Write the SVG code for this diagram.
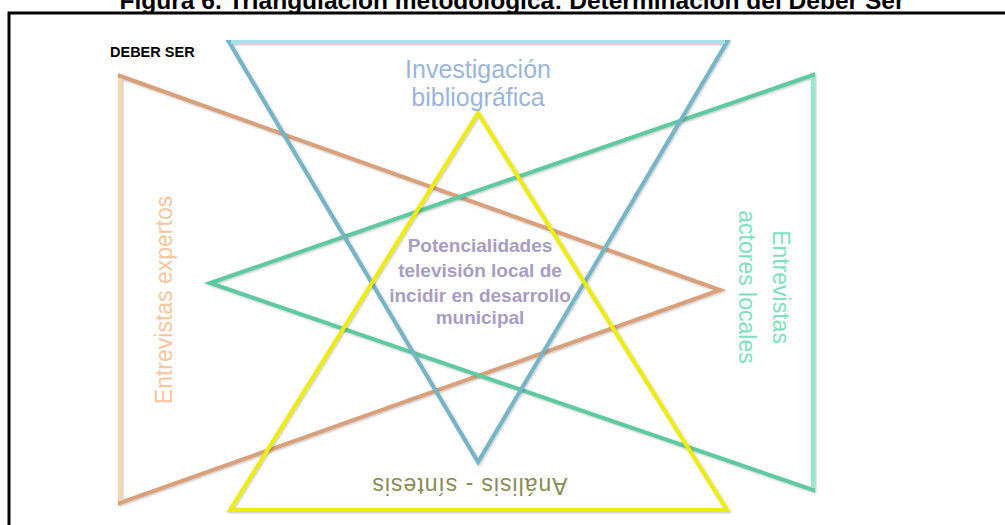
<svg xmlns="http://www.w3.org/2000/svg" width="1005" height="525" viewBox="0 0 1005 525">
<style>
.tri{fill:none;stroke-width:4;stroke-linejoin:miter}
.lbl{font-family:"Liberation Sans",Arial,sans-serif}
</style>
<defs>
<filter id="sh" x="-5%" y="-5%" width="110%" height="110%">
<feDropShadow dx="1" dy="1" stdDeviation="0.8" flood-color="#000" flood-opacity="0.25"/>
</filter>
</defs>
<rect width="1005" height="525" fill="#fff"/>
<text x="512" y="9" text-anchor="middle" class="lbl" font-weight="bold" font-size="23" textLength="785" lengthAdjust="spacingAndGlyphs" fill="#000">Figura 6. Triangulación metodológica: Determinación del Deber Ser</text>
<rect x="9" y="13" width="1010" height="530" fill="none" stroke="#000" stroke-width="3"/>
<text x="110" y="57" class="lbl" font-weight="bold" font-size="14.5" fill="#000">DEBER SER</text>

<g id="expertos" filter="url(#sh)">
<polygon class="tri" points="120,76 720,290 120,503" stroke="#d9a07c"/>
<line x1="120" y1="78" x2="120" y2="501" stroke="#f7d5ad" stroke-width="4"/>
</g>
<g id="actores" filter="url(#sh)">
<polygon class="tri" points="813,75 210,283 813,490" stroke="#5ec9a0"/>
<line x1="813" y1="77" x2="813" y2="488" stroke="#8eebcc" stroke-width="4"/>
</g>
<g id="investigacion" filter="url(#sh)">
<polygon class="tri" points="229,42 727,42 478,462" stroke="#76b5c6"/>
<line x1="231" y1="42" x2="725" y2="42" stroke="#a6e0ea" stroke-width="4"/>
</g>
<g id="analisis" filter="url(#sh)">
<polygon class="tri" points="478,113 727,510 230,510" stroke="#ecec10"/>
</g>

<text x="478" y="78" text-anchor="middle" class="lbl" font-size="25" fill="#9bb5da">Investigación</text>
<text x="478" y="106" text-anchor="middle" class="lbl" font-size="25" fill="#9bb5da">bibliográfica</text>

<text transform="translate(172,300) rotate(-90)" text-anchor="middle" class="lbl" font-size="23" fill="#f5c59c">Entrevistas expertos</text>

<g class="lbl" font-size="23" fill="#7fe0c0" text-anchor="middle">
<text transform="translate(773,287) rotate(90)">Entrevistas</text>
<text transform="translate(739,287) rotate(90)">actores locales</text>
</g>

<text transform="translate(470,478) rotate(180)" text-anchor="middle" class="lbl" font-size="23" textLength="195" fill="#8a8a58">Análisis - síntesis</text>

<g class="lbl" font-weight="bold" font-size="19" fill="#a99cc2" text-anchor="middle">
<text x="480" y="252">Potencialidades</text>
<text x="480" y="277">televisión local de</text>
<text x="480" y="302">incidir en desarrollo</text>
<text x="480" y="324">municipal</text>
</g>
</svg>
